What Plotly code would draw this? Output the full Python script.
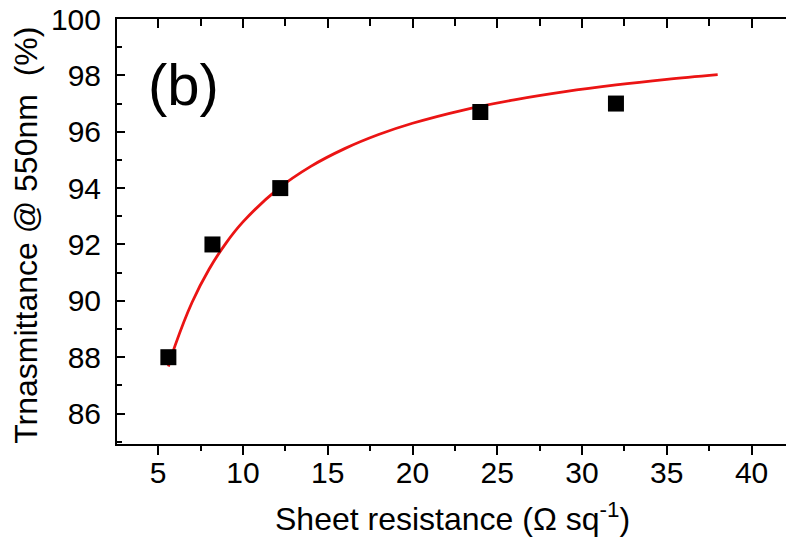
import plotly.graph_objects as go

# Measured samples
sheet_resistance = [5.6, 8.2, 12.2, 24.0, 32.0]
transmittance = [88.0, 92.0, 94.0, 96.7, 97.0]

# Fitted curve (sampled along the red line)
fit_x = [5.6, 6, 7, 8, 9, 10, 12, 14, 16, 18, 20, 23, 26, 29, 32, 35, 38]
fit_y = [87.67, 88.42, 89.95, 91.12, 92.05, 92.80, 93.94, 94.77, 95.40,
         95.90, 96.30, 96.77, 97.13, 97.42, 97.66, 97.86, 98.03]

x_ticks = [5, 10, 15, 20, 25, 30, 35, 40]
y_ticks = [86, 88, 90, 92, 94, 96, 98, 100]

FONT = "Liberation Sans, Arial, sans-serif"
X_RANGE = [2.57, 42.03]
Y_RANGE = [84.92, 100]

fig = go.Figure()
fig.add_trace(go.Scatter(
    x=fit_x, y=fit_y, mode="lines", line=dict(color="rgb(235,20,20)", width=2.8, shape="spline"),
    showlegend=False, hoverinfo="skip"))
fig.add_trace(go.Scatter(
    x=sheet_resistance, y=transmittance, mode="markers",
    marker=dict(symbol="square", size=16, color="black", line=dict(width=0)),
    showlegend=False))
# invisible trace so the top axis is drawn
fig.add_trace(go.Scatter(x=[X_RANGE[0]], y=[Y_RANGE[0]], xaxis="x2", mode="markers",
                         marker=dict(opacity=0), showlegend=False, hoverinfo="skip"))

fig.update_layout(
    width=786, height=540,
    margin=dict(l=117, r=0, t=19, b=96),
    paper_bgcolor="white", plot_bgcolor="white",
    font=dict(family=FONT, color="black"),
    xaxis=dict(
        range=X_RANGE, tickvals=x_ticks, ticktext=[str(v) for v in x_ticks],
        showline=True, linewidth=2, linecolor="black", mirror=False,
        ticks="outside", ticklen=9, tickwidth=2, tickcolor="black",
        minor=dict(dtick=2.5, tick0=0, ticks="outside", ticklen=5, tickwidth=2, tickcolor="black"),
        tickfont=dict(size=30, family=FONT), ticklabelstandoff=-8,
        showgrid=False, zeroline=False,
    ),
    xaxis2=dict(
        range=X_RANGE, overlaying="x", side="top", tickvals=x_ticks, showticklabels=False,
        showline=True, linewidth=2, linecolor="black",
        ticks="inside", ticklen=9, tickwidth=2, tickcolor="black",
        minor=dict(dtick=2.5, tick0=0, ticks="inside", ticklen=7, tickwidth=2, tickcolor="black"),
        showgrid=False, zeroline=False,
    ),
    yaxis=dict(
        range=Y_RANGE, tickvals=y_ticks, ticktext=[str(v) for v in y_ticks],
        showline=True, linewidth=2, linecolor="black", mirror=False,
        ticks="inside", ticklen=8, tickwidth=2, tickcolor="black",
        minor=dict(dtick=1, tick0=0, ticks="inside", ticklen=5, tickwidth=2, tickcolor="black"),
        tickfont=dict(size=30, family=FONT), ticklabelstandoff=8,
        showgrid=False, zeroline=False,
    ),
    annotations=[
        dict(text="(b)", x=0.0987, y=0.845, xref="paper", yref="paper",
             xanchor="center", yanchor="middle", showarrow=False,
             font=dict(size=58, family=FONT, color="black")),
        dict(text="Sheet resistance (\u03a9 sq<sup>-1</sup>)", x=0.502, y=-0.171,
             xref="paper", yref="paper", xanchor="center", yanchor="middle",
             showarrow=False, font=dict(size=32, family=FONT, color="black")),
        dict(text="Trnasmittance @ 550nm \u00a0(%)", x=-0.136, y=0.49, textangle=-90,
             xref="paper", yref="paper", xanchor="center", yanchor="middle",
             showarrow=False, font=dict(size=32, family=FONT, color="black")),
    ],
)

fig.write_html("out.html")
